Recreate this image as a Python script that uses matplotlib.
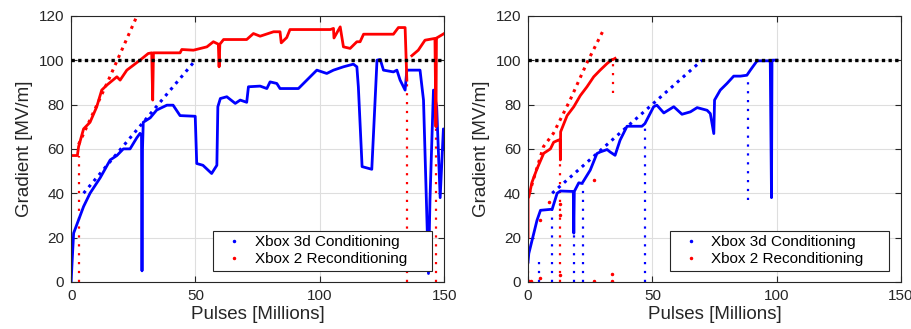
"""Gradient vs pulses for the two structures (left: full run, right: first 100M)."""
import matplotlib

matplotlib.use("Agg")
import matplotlib.pyplot as plt
from matplotlib.lines import Line2D

plt.rcParams["font.family"] = ["Liberation Sans", "DejaVu Sans"]

BLUE = (0, 0, 1)
RED = (1, 0, 0)

# ------------------------------------------------------------------
# Left panel data (pulses in millions, gradient in MV/m)
# ------------------------------------------------------------------
blue_left_x = [0, 0.3, 1, 3, 5, 7.6, 11.7, 15.7, 18.4, 21, 23.7, 26.4, 27.7,
               28.3, 28.5, 28.7, 29, 31.8, 34.4, 38.5, 41, 43.8, 49.9,
               50.5, 53, 56.5, 58.6, 59, 60, 62.6, 66, 68, 70.6, 71.3, 76,
               78.7, 80, 82.7, 84, 91.4, 98.8, 102.8, 105.5, 109.5, 113.5,
               114.9, 115.5, 117, 120.9, 121.6, 123, 124.3, 125.6, 129.6,
               131, 132.3, 134.3, 135, 140.3, 141.7, 143.7, 144.3, 145.7,
               147, 148.4, 149.7, 150]
blue_left_y = [0, 7, 22, 28, 34, 40, 47, 55, 57, 60, 60, 65, 67,
               66, 5, 60, 72, 74, 77.5, 79.7, 79.7, 75, 74.7,
               53.4, 52.6, 48.9, 52.6, 79, 82.7, 83.5, 80.5, 82, 81, 88, 88.3,
               87.2, 90.2, 89.5, 87.2, 87.2, 95.5, 94, 95.5, 97, 98.2,
               97, 88, 52, 50.8, 67, 100, 100.3, 95.5, 94.7,
               95.5, 91, 86.5, 95.5, 95.5, 82, 3.8, 37, 86.5,
               79, 38, 69, 60]

red_left_x = [0, 2.5, 3, 5, 7.6, 10.3, 12.3, 14.3, 15.7, 18.4, 19.7, 22.4,
              25, 27.7, 31, 32.4, 32.8, 33.1, 34.4, 43.8, 44.5, 49.2, 54.6,
              57.2, 59.2, 59.5, 59.8, 61.3, 70.6, 73.3, 76, 81.4, 84, 84.5,
              86.7, 88, 104.2, 105.5, 105.7, 108.2, 109.5, 112.2, 114.9,
              116.2, 117.6, 129.6, 131.6, 134.3, 135]
red_left_y = [57, 57, 61, 69, 72, 79, 86.5, 88.7, 90, 92.5, 91, 95.5,
              97.7, 100, 103, 103.3, 82, 103.3, 103.3, 103.3, 104.8, 104.5,
              106, 108.3, 107.2, 97, 107.2, 109.3, 109.3, 112, 110.8, 112.8,
              112.8, 107.8, 110.2, 113.8, 113.8, 114.3, 110, 115, 106, 105.3,
              108.3, 108.3, 111.7, 111.7, 114.7, 114.7, 91]
red_left_x2 = [137, 139.6, 142.3, 146.3, 146.7, 146.9, 147, 150]
red_left_y2 = [102, 104.5, 109, 109.8, 70, 110, 110, 112]

# sparse trip columns (x, low, high)
red_left_trip_x = [3, 135, 146.7]
red_left_trip_lo = [0, 0, 0]
red_left_trip_hi = [57, 91, 70]

fit_red_left_x = [3, 15, 26.5]
fit_red_left_y = [62, 91, 120]
fit_blue_left_x = [5, 50]
fit_blue_left_y = [40, 100]

# ------------------------------------------------------------------
# Right panel data
# ------------------------------------------------------------------
blue_right_x = [0, 0.3, 3.6, 5, 9.7, 11.7, 13, 18.2, 18.4, 18.6, 20.4, 21.7,
                25, 27.7, 29, 31.8, 33, 35, 37, 39.8, 45.8, 47, 50.5, 51.8,
                54.6, 58.6, 61.9, 65.3, 68, 72, 73.3, 74.7, 75, 77.3, 80,
                82.7, 85.4, 88, 89.4, 92.1, 97.4, 97.9, 98.1, 98.3, 99.5,
                100]
blue_right_y = [9, 12.8, 27.8, 32.3, 32.8, 40, 41, 40.8, 22, 40.8, 44.7,
                44.4, 50.4, 57.9, 58.6, 59.7, 58.6, 57.1, 63.9, 70.2, 70.2,
                71.4, 79, 79.7, 76.2, 79, 75.6, 76.7, 78.6, 77.4, 75.9, 66.9,
                82, 86.5, 89.5, 92.8, 92.8, 93.2, 95.5, 99.7, 99.7, 38, 99.7,
                100, 100, 100]
blue_right_trip_x = [4.5, 9.7, 18.4, 22, 47, 88.5]
blue_right_trip_lo = [0, 0, 0, 0, 0, 37]
blue_right_trip_hi = [10, 33, 22, 44, 70, 93]

red_right_x = [0, 0, 0.3, 1.6, 3.6, 6.3, 9, 10.3, 12.3, 12.9, 13, 13.1,
               15.7, 18.4, 21, 23.7, 26.4, 29, 31.8, 33.8, 34.2, 35]
red_right_y = [20, 38, 38.3, 45, 51, 58, 60, 63, 64, 64, 55, 67.7,
               75, 79, 84, 88, 92.5, 95.5, 98.5, 100.3, 100.3, 100.8]
red_right_trip_x = [0, 13, 34]
red_right_trip_lo = [0, 0, 85]
red_right_trip_hi = [20, 55, 100]
red_right_dots_x = [0.5, 1, 5, 5, 8.3, 13, 13, 13, 26.4, 26.4, 33.8, 33.8]
red_right_dots_y = [0.5, 0.3, 2, 28, 36, 3, 30, 35, 46, 0.4, 3.8, 0.5]

fit_red_right_x = [0.5, 6.2, 10.2, 16.9, 23.6, 30.5]
fit_red_right_y = [40, 61, 67, 82, 98.6, 114]
fit_blue_right_x = [9.7, 70]
fit_blue_right_y = [40, 100]

target_gradient = 100
x_ticks = [0, 50, 100, 150]
y_ticks = [0, 20, 40, 60, 80, 100, 120]
legend_labels = ["Xbox 3d Conditioning", "Xbox 2 Reconditioning"]

FIT_DOTS = (0, (1, 1.6))


def style_axes(ax):
    ax.set_xlim(0, 150)
    ax.set_ylim(0, 120)
    ax.set_xticks(x_ticks)
    ax.set_yticks(y_ticks)
    ax.grid(True, color="0.87", lw=0.8)
    ax.set_axisbelow(True)
    ax.tick_params(direction="in", top=True, right=True, length=4,
                   labelsize=11, colors="0.15", pad=5)
    for s in ax.spines.values():
        s.set_color("0.15")
        s.set_linewidth(0.8)
    ax.set_xlabel("Pulses [Millions]", fontsize=13.5, color="0.15", labelpad=2)
    ax.set_ylabel("Gradient [MV/m]", fontsize=13.5, color="0.15", labelpad=4)
    ax.axhline(target_gradient, color="black", lw=2.4, ls=(0, (1, 1)),
               zorder=4)
    handles = [
        Line2D([], [], color=BLUE, marker=".", ms=3, ls="none"),
        Line2D([], [], color=RED, marker=".", ms=3, ls="none"),
    ]
    leg = ax.legend(handles, legend_labels, loc="lower left",
                    bbox_to_anchor=(0.381, 0.041, 0.587, 0.147),
                    mode="expand", borderaxespad=0,
                    fontsize=11, fancybox=False, framealpha=1,
                    borderpad=0.3, handletextpad=0.3, labelspacing=0.2,
                    handlelength=2.1)
    leg.get_frame().set_edgecolor("0.15")
    leg.get_frame().set_linewidth(0.8)


fig = plt.figure(figsize=(9.12, 3.29), dpi=100)
ax_l = fig.add_axes([0.078, 0.143, 0.409, 0.809])
ax_r = fig.add_axes([0.579, 0.143, 0.409, 0.809])

# left panel
ax_l.plot(fit_red_left_x, fit_red_left_y, color=RED, lw=2.2, ls=FIT_DOTS)
ax_l.plot(fit_blue_left_x, fit_blue_left_y, color=BLUE, lw=2.2, ls=FIT_DOTS)
ax_l.vlines(red_left_trip_x, red_left_trip_lo, red_left_trip_hi, colors=RED,
            lw=1.6, linestyles=(0, (1, 3)))
ax_l.plot(blue_left_x, blue_left_y, color=BLUE, lw=2)
ax_l.plot(red_left_x, red_left_y, color=RED, lw=2)
ax_l.plot(red_left_x2, red_left_y2, color=RED, lw=2)
style_axes(ax_l)

# right panel
ax_r.plot(fit_red_right_x, fit_red_right_y, color=RED, lw=2.2, ls=FIT_DOTS)
ax_r.plot(fit_blue_right_x, fit_blue_right_y, color=BLUE, lw=2.2, ls=FIT_DOTS)
ax_r.vlines(blue_right_trip_x, blue_right_trip_lo, blue_right_trip_hi,
            colors=BLUE, lw=1.6, linestyles=(0, (1, 3)))
ax_r.vlines(red_right_trip_x, red_right_trip_lo, red_right_trip_hi,
            colors=RED, lw=1.6, linestyles=(0, (1, 3)))
ax_r.plot(red_right_dots_x, red_right_dots_y, color=RED, marker=".", ms=3,
          ls="none")
ax_r.plot(blue_right_x, blue_right_y, color=BLUE, lw=2)
ax_r.plot(red_right_x, red_right_y, color=RED, lw=2)
style_axes(ax_r)

fig.savefig("out.png", dpi=100)
plt.close(fig)
